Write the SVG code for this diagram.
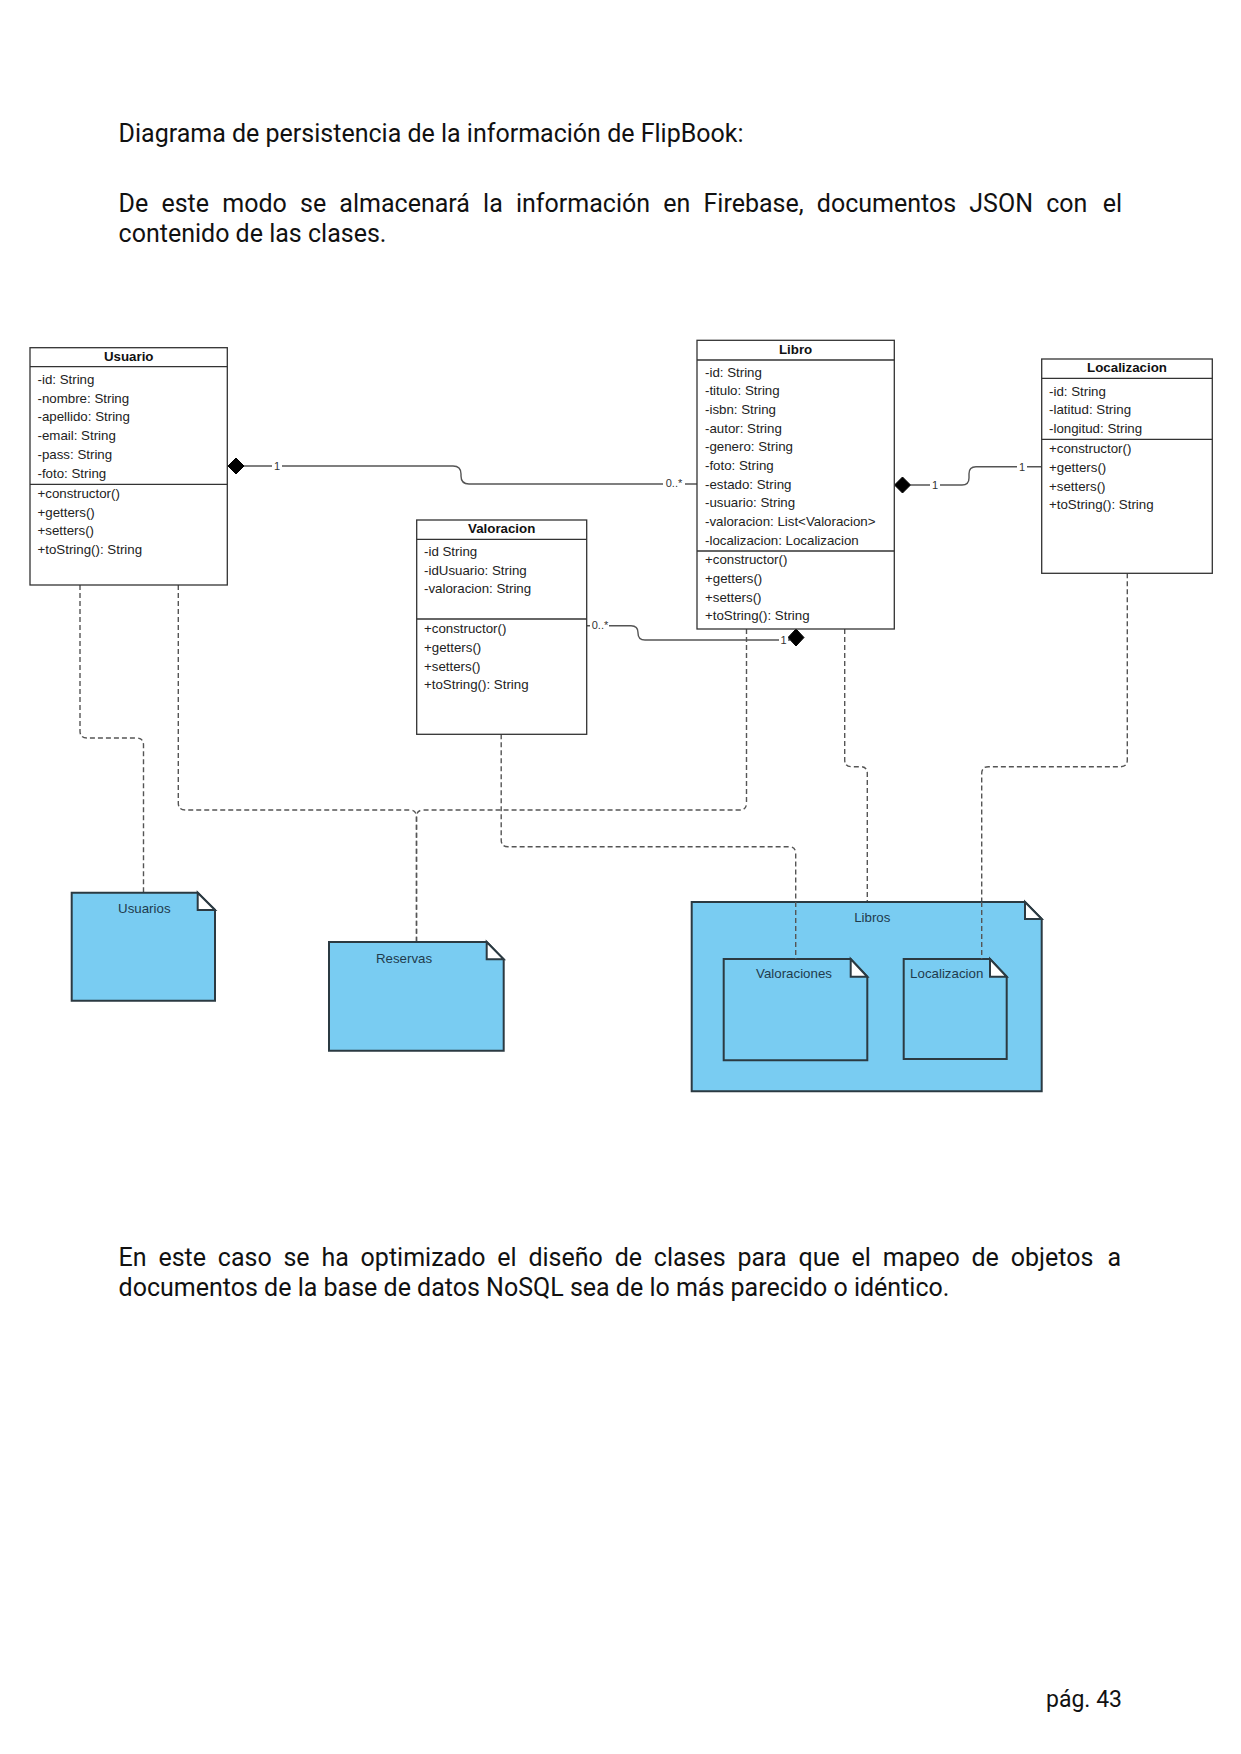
<svg xmlns="http://www.w3.org/2000/svg" width="1241" height="1754" viewBox="0 0 1241 1754">
  <style>
    .page { font-family: Roboto, "Liberation Sans", sans-serif; font-size: 25px; fill: #111; }
    .box { fill: #fff; stroke: #333; stroke-width: 1.3; }
    .sep { stroke: #333; stroke-width: 1.3; }
    .title { font-family: "Liberation Sans", Arial, sans-serif; font-size: 13.3px; font-weight: bold; fill: #111; text-anchor: middle; }
    .row { font-family: "Liberation Sans", Arial, sans-serif; font-size: 13.3px; fill: #222; }
    .assoc { fill: none; stroke: #555; stroke-width: 1.4; }
    .dep { fill: none; stroke: #555; stroke-width: 1.4; stroke-dasharray: 5 3; }
    .diamond { fill: #000; stroke: #000; stroke-width: 1; }
    .mult { font-family: "Liberation Sans", Arial, sans-serif; font-size: 11px; fill: #333; text-anchor: middle; dominant-baseline: central; }
    .mbg { fill: #fff; }
    .note { fill: #79ccf2; stroke: #2b3a42; stroke-width: 2; stroke-linejoin: miter; }
    .fold { fill: #fff; stroke: #2b3a42; stroke-width: 2; }
    .nlabel { font-family: "Liberation Sans", Arial, sans-serif; font-size: 13.3px; fill: #1f3b4d; text-anchor: middle; }
  </style>

  <rect width="1241" height="1754" fill="#fff"/>

  <!-- page text -->
  <g id="page-text">
    <text class="page" x="118.6" y="142">Diagrama de persistencia de la información de FlipBook:</text>
    <text class="page" x="118.6" y="211.5" word-spacing="7">De este modo se almacenará la información en Firebase, documentos JSON con</text>
    <text class="page" x="1122" y="211.5" text-anchor="end">el</text>
    <text class="page" x="118.6" y="241.5">contenido de las clases.</text>
    <text class="page" x="118.6" y="1265.5" word-spacing="5.6">En este caso se ha optimizado el diseño de clases para que el mapeo de objetos</text>
    <text class="page" x="1121" y="1265.5" text-anchor="end">a</text>
    <text class="page" x="118.6" y="1296">documentos de la base de datos NoSQL sea de lo más parecido o idéntico.</text>
    <text class="page" x="1122" y="1707" text-anchor="end" style="font-size:23px">pág. 43</text>
  </g>

  <!-- connectors -->
  <g id="connectors">
    <!-- dependencies from classes to collections -->
    <path class="dep" d="M80,585 V731 Q80,738 87,738 H136.5 Q143.5,738 143.5,745 V892.7"/>
    <path class="dep" d="M178.3,585 V803 Q178.3,810 185.3,810 H409.5 Q416.5,810 416.5,817 V942"/>
    <path class="dep" d="M746.5,629 V803 Q746.5,810 739.5,810 H423.5 Q416.5,810 416.5,817 V942"/>
    <path class="dep" d="M501.2,734.3 V840 Q501.2,846.7 508,846.7 H789 Q795.7,846.7 795.7,853.5 V959"/>
    <path class="dep" d="M844.7,629 V760 Q844.7,766.7 851.5,766.7 H860.5 Q867.3,766.7 867.3,773.5 V902"/>
    <path class="dep" d="M1127.3,573.3 V760 Q1127.3,766.7 1120.5,766.7 H988.5 Q981.7,766.7 981.7,773.5 V959"/>

    <!-- Usuario 1 — 0..* Libro -->
    <path class="assoc" d="M244,466 H453 Q461,466 461,474 V476 Q461,484 469,484 H697"/>
    <polygon class="diamond" points="228,466 236,458 244,466 236,474"/>
    <rect class="mbg" x="272" y="459" width="10" height="14"/>
    <text class="mult" x="277" y="466">1</text>
    <rect class="mbg" x="663" y="477" width="22" height="14"/>
    <text class="mult" x="674" y="483">0..*</text>

    <!-- Valoracion 0..* — 1 Libro -->
    <path class="assoc" d="M586.7,625.7 H631 Q638,625.7 638,632.5 V633 Q638,640 645,640 H790"/>
    <polygon class="diamond" points="788,637.5 796,629 804,637.5 796,646"/>
    <rect class="mbg" x="590" y="618" width="19" height="14"/>
    <text class="mult" x="600" y="624.5">0..*</text>
    <rect class="mbg" x="779" y="633" width="9" height="14"/>
    <text class="mult" x="783.5" y="640">1</text>

    <!-- Libro 1 — 1 Localizacion -->
    <path class="assoc" d="M910.5,485 H962 Q969,485 969,478 V473.7 Q969,466.7 976,466.7 H1041.7"/>
    <polygon class="diamond" points="894.5,485 902.5,477 910.5,485 902.5,493"/>
    <rect class="mbg" x="930" y="478" width="10" height="14"/>
    <text class="mult" x="935" y="485">1</text>
    <rect class="mbg" x="1017" y="460" width="10" height="14"/>
    <text class="mult" x="1022" y="466.7">1</text>
  </g>

  <!-- class Usuario -->
  <g id="usuario">
    <rect class="box" x="30" y="347.7" width="197.3" height="237.3"/>
    <line class="sep" x1="30" y1="366.7" x2="227.3" y2="366.7"/>
    <line class="sep" x1="30" y1="484.3" x2="227.3" y2="484.3"/>
    <text class="title" x="128.7" y="360.5">Usuario</text>
    <text class="row" x="37.5" y="384">-id: String</text>
    <text class="row" x="37.5" y="402.7">-nombre: String</text>
    <text class="row" x="37.5" y="421.4">-apellido: String</text>
    <text class="row" x="37.5" y="440.1">-email: String</text>
    <text class="row" x="37.5" y="458.8">-pass: String</text>
    <text class="row" x="37.5" y="477.5">-foto: String</text>
    <text class="row" x="37.5" y="498">+constructor()</text>
    <text class="row" x="37.5" y="516.7">+getters()</text>
    <text class="row" x="37.5" y="535.4">+setters()</text>
    <text class="row" x="37.5" y="554.1">+toString(): String</text>
  </g>

  <!-- class Libro -->
  <g id="libro">
    <rect class="box" x="697" y="340.3" width="197.3" height="288.7"/>
    <line class="sep" x1="697" y1="360" x2="894.3" y2="360"/>
    <line class="sep" x1="697" y1="551" x2="894.3" y2="551"/>
    <text class="title" x="795.6" y="353.5">Libro</text>
    <text class="row" x="705" y="376.5">-id: String</text>
    <text class="row" x="705" y="395.2">-titulo: String</text>
    <text class="row" x="705" y="413.9">-isbn: String</text>
    <text class="row" x="705" y="432.6">-autor: String</text>
    <text class="row" x="705" y="451.3">-genero: String</text>
    <text class="row" x="705" y="470">-foto: String</text>
    <text class="row" x="705" y="488.7">-estado: String</text>
    <text class="row" x="705" y="507.4">-usuario: String</text>
    <text class="row" x="705" y="526.1">-valoracion: List&lt;Valoracion&gt;</text>
    <text class="row" x="705" y="544.8">-localizacion: Localizacion</text>
    <text class="row" x="705" y="564.3">+constructor()</text>
    <text class="row" x="705" y="583">+getters()</text>
    <text class="row" x="705" y="601.7">+setters()</text>
    <text class="row" x="705" y="620.4">+toString(): String</text>
  </g>

  <!-- class Valoracion -->
  <g id="valoracion">
    <rect class="box" x="416.7" y="520" width="170" height="214.3"/>
    <line class="sep" x1="416.7" y1="539.3" x2="586.7" y2="539.3"/>
    <line class="sep" x1="416.7" y1="619" x2="586.7" y2="619"/>
    <text class="title" x="501.7" y="532.5">Valoracion</text>
    <text class="row" x="424" y="556">-id String</text>
    <text class="row" x="424" y="574.7">-idUsuario: String</text>
    <text class="row" x="424" y="593.4">-valoracion: String</text>
    <text class="row" x="424" y="633.3">+constructor()</text>
    <text class="row" x="424" y="652">+getters()</text>
    <text class="row" x="424" y="670.7">+setters()</text>
    <text class="row" x="424" y="689.4">+toString(): String</text>
  </g>

  <!-- class Localizacion -->
  <g id="localizacion">
    <rect class="box" x="1041.7" y="359" width="170.6" height="214.3"/>
    <line class="sep" x1="1041.7" y1="378.3" x2="1212.3" y2="378.3"/>
    <line class="sep" x1="1041.7" y1="439.3" x2="1212.3" y2="439.3"/>
    <text class="title" x="1127" y="372">Localizacion</text>
    <text class="row" x="1049" y="395.5">-id: String</text>
    <text class="row" x="1049" y="414.2">-latitud: String</text>
    <text class="row" x="1049" y="432.9">-longitud: String</text>
    <text class="row" x="1049" y="453.3">+constructor()</text>
    <text class="row" x="1049" y="472">+getters()</text>
    <text class="row" x="1049" y="490.7">+setters()</text>
    <text class="row" x="1049" y="509.4">+toString(): String</text>
  </g>

  <!-- collection Usuarios -->
  <g id="usuarios">
    <path class="note" d="M71.7,892.7 H197.7 L215,910 V1000.7 H71.7 Z"/>
    <path class="fold" d="M197.7,892.7 V910 H215 Z"/>
    <text class="nlabel" x="144.3" y="913">Usuarios</text>
  </g>

  <!-- collection Reservas -->
  <g id="reservas">
    <path class="note" d="M329,942 H486.7 L503.7,959.3 V1050.7 H329 Z"/>
    <path class="fold" d="M486.7,942 V959.3 H503.7 Z"/>
    <text class="nlabel" x="404" y="962.5">Reservas</text>
  </g>

  <!-- collection Libros with nested sub-collections -->
  <g id="libros">
    <path class="note" d="M691.7,902 H1025 L1041.7,919 V1091.3 H691.7 Z"/>
    <path class="fold" d="M1025,902 V919 H1041.7 Z"/>
    <text class="nlabel" x="872.3" y="922">Libros</text>
  </g>

  <g id="valoraciones">
    <path class="note" d="M723.7,959 H850.7 L867.3,976.7 V1060.3 H723.7 Z"/>
    <path class="fold" d="M850.7,959 V976.7 H867.3 Z"/>
    <text class="nlabel" x="794" y="978.3">Valoraciones</text>
  </g>

  <g id="localizacion-doc">
    <path class="note" d="M903.7,959 H990 L1006.7,976.7 V1059 H903.7 Z"/>
    <path class="fold" d="M990,959 V976.7 H1006.7 Z"/>
    <text class="nlabel" x="946.7" y="978.3">Localizacion</text>
  </g>

  <!-- dependency ends drawn over the Libros container -->
  <g id="connectors-inner">
    <path class="dep" d="M795.7,902 V959"/>
    <path class="dep" d="M981.7,902 V959"/>
  </g>
</svg>
